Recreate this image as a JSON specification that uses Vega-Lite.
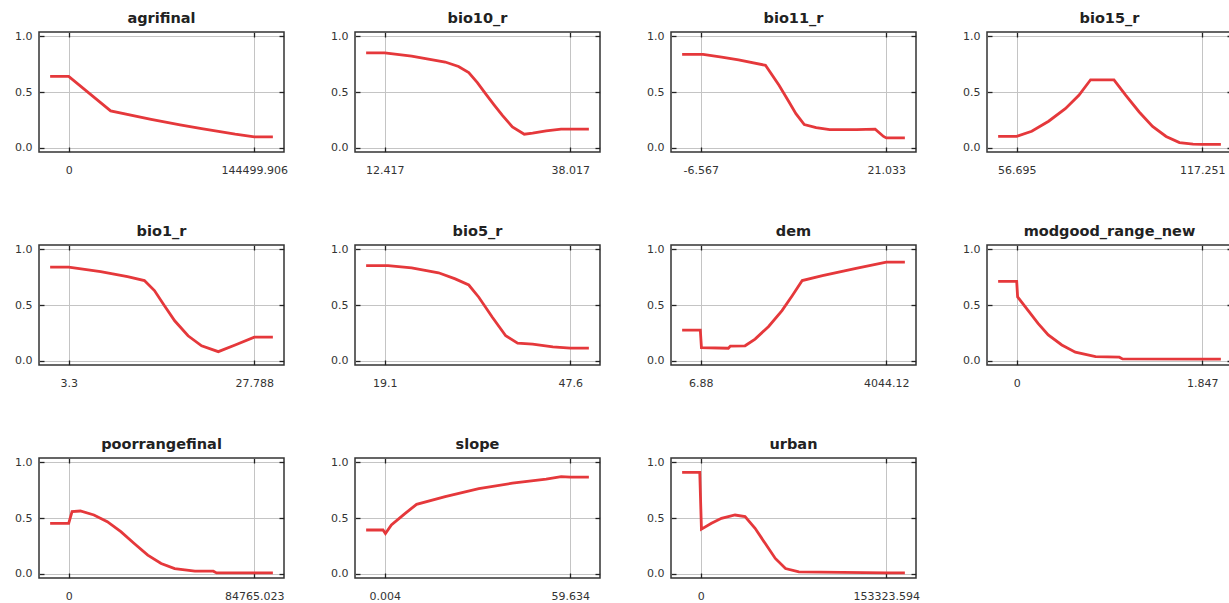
{
  "$schema": "https://vega.github.io/schema/vega-lite/v6.json",
  "background": "white",
  "padding": {"left": 13, "top": 10, "right": 0, "bottom": 0},
  "config": {
    "view": {"stroke": "#333333", "strokeWidth": 1.5},
    "axis": {"domain": false, "grid": true, "gridColor": "#c4c4c4", "gridWidth": 1, "tickColor": "#222222", "tickSize": -5, "tickWidth": 1.3, "labelFont": "DejaVu Sans", "labelFontSize": 11, "labelColor": "#333333"},
    "axisX": {"labelPadding": 17},
    "axisY": {"labelPadding": 12},
    "title": {"font": "DejaVu Sans", "fontSize": 14.5, "fontWeight": "bold", "color": "#222222", "offset": 4}
  },
  "datasets": {
    "agrifinal": [{"x": -14450, "y": 0.64}, {"x": 0, "y": 0.64}, {"x": 32657, "y": 0.33}, {"x": 64158, "y": 0.254}, {"x": 86700, "y": 0.205}, {"x": 103462, "y": 0.17}, {"x": 129616, "y": 0.12}, {"x": 144500, "y": 0.097}, {"x": 158950, "y": 0.097}],
    "bio10_r": [{"x": 9.857, "y": 0.853}, {"x": 12.417, "y": 0.853}, {"x": 16.13, "y": 0.823}, {"x": 20.76, "y": 0.77}, {"x": 22.6, "y": 0.73}, {"x": 24.01, "y": 0.674}, {"x": 25.2, "y": 0.585}, {"x": 26.32, "y": 0.485}, {"x": 27.5, "y": 0.385}, {"x": 28.65, "y": 0.29}, {"x": 30.03, "y": 0.186}, {"x": 31.67, "y": 0.12}, {"x": 32.82, "y": 0.13}, {"x": 34.69, "y": 0.15}, {"x": 36.74, "y": 0.165}, {"x": 38.017, "y": 0.165}, {"x": 40.577, "y": 0.165}],
    "bio11_r": [{"x": -9.327, "y": 0.838}, {"x": -6.21, "y": 0.838}, {"x": -3.448, "y": 0.814}, {"x": -0.937, "y": 0.79}, {"x": 3.065, "y": 0.74}, {"x": 5.08, "y": 0.56}, {"x": 6.571, "y": 0.41}, {"x": 7.592, "y": 0.305}, {"x": 8.834, "y": 0.207}, {"x": 10.6, "y": 0.18}, {"x": 12.615, "y": 0.162}, {"x": 16.617, "y": 0.162}, {"x": 19.377, "y": 0.165}, {"x": 20.619, "y": 0.1}, {"x": 21.033, "y": 0.087}, {"x": 23.793, "y": 0.087}],
    "bio15_r": [{"x": 50.639, "y": 0.1}, {"x": 56.695, "y": 0.1}, {"x": 61.6, "y": 0.147}, {"x": 67.11, "y": 0.237}, {"x": 72.56, "y": 0.35}, {"x": 76.98, "y": 0.47}, {"x": 80.8, "y": 0.61}, {"x": 88.43, "y": 0.61}, {"x": 92.3, "y": 0.47}, {"x": 96.66, "y": 0.32}, {"x": 101.02, "y": 0.19}, {"x": 105.44, "y": 0.1}, {"x": 109.8, "y": 0.045}, {"x": 114.22, "y": 0.03}, {"x": 117.251, "y": 0.028}, {"x": 123.307, "y": 0.028}],
    "bio1_r": [{"x": 0.851, "y": 0.84}, {"x": 3.3, "y": 0.84}, {"x": 7.512, "y": 0.8}, {"x": 11.063, "y": 0.756}, {"x": 13.291, "y": 0.72}, {"x": 14.613, "y": 0.63}, {"x": 15.936, "y": 0.494}, {"x": 17.283, "y": 0.358}, {"x": 19.046, "y": 0.223}, {"x": 20.833, "y": 0.133}, {"x": 23.037, "y": 0.08}, {"x": 25.26, "y": 0.14}, {"x": 27.788, "y": 0.21}, {"x": 30.237, "y": 0.21}],
    "bio5_r": [{"x": 16.25, "y": 0.855}, {"x": 19.613, "y": 0.855}, {"x": 23.233, "y": 0.834}, {"x": 27.365, "y": 0.79}, {"x": 29.93, "y": 0.735}, {"x": 32.011, "y": 0.68}, {"x": 33.55, "y": 0.57}, {"x": 35.63, "y": 0.39}, {"x": 37.68, "y": 0.223}, {"x": 39.506, "y": 0.157}, {"x": 41.815, "y": 0.148}, {"x": 44.921, "y": 0.123}, {"x": 47.6, "y": 0.111}, {"x": 50.45, "y": 0.111}],
    "dem": [{"x": -396.84, "y": 0.274}, {"x": -1.19, "y": 0.274}, {"x": 23.03, "y": 0.117}, {"x": 608.4, "y": 0.111}, {"x": 652.8, "y": 0.13}, {"x": 971.8, "y": 0.133}, {"x": 1189.8, "y": 0.193}, {"x": 1484.5, "y": 0.307}, {"x": 1775.2, "y": 0.45}, {"x": 1997.3, "y": 0.584}, {"x": 2215.2, "y": 0.72}, {"x": 2655.3, "y": 0.765}, {"x": 3386.1, "y": 0.83}, {"x": 4044.12, "y": 0.886}, {"x": 4447.84, "y": 0.886}],
    "modgood_range_new": [{"x": -0.1847, "y": 0.713}, {"x": 0, "y": 0.713}, {"x": 0.0092, "y": 0.573}, {"x": 0.1108, "y": 0.454}, {"x": 0.2124, "y": 0.334}, {"x": 0.314, "y": 0.23}, {"x": 0.4488, "y": 0.14}, {"x": 0.5837, "y": 0.075}, {"x": 0.785, "y": 0.036}, {"x": 1.0214, "y": 0.03}, {"x": 1.0528, "y": 0.015}, {"x": 1.847, "y": 0.012}, {"x": 2.0317, "y": 0.012}],
    "poorrangefinal": [{"x": -8476.5, "y": 0.452}, {"x": 0, "y": 0.452}, {"x": 1525.8, "y": 0.557}, {"x": 5340.2, "y": 0.563}, {"x": 11528, "y": 0.527}, {"x": 17631, "y": 0.467}, {"x": 23819, "y": 0.377}, {"x": 29922, "y": 0.27}, {"x": 36110, "y": 0.166}, {"x": 42213, "y": 0.09}, {"x": 48401, "y": 0.045}, {"x": 57640, "y": 0.021}, {"x": 66032, "y": 0.021}, {"x": 67558, "y": 0.006}, {"x": 84765, "y": 0.006}, {"x": 93241.5, "y": 0.006}],
    "slope": [{"x": -5.959, "y": 0.392}, {"x": -0.533, "y": 0.392}, {"x": 0.243, "y": 0.36}, {"x": 2.151, "y": 0.437}, {"x": 6.504, "y": 0.54}, {"x": 10.26, "y": 0.623}, {"x": 19.443, "y": 0.693}, {"x": 30.236, "y": 0.765}, {"x": 41.03, "y": 0.813}, {"x": 51.882, "y": 0.85}, {"x": 56.712, "y": 0.873}, {"x": 59.634, "y": 0.867}, {"x": 65.597, "y": 0.867}],
    "urban": [{"x": -15332.4, "y": 0.91}, {"x": -766.6, "y": 0.91}, {"x": 613.3, "y": 0.4}, {"x": 8892.8, "y": 0.452}, {"x": 17172, "y": 0.497}, {"x": 28365, "y": 0.527}, {"x": 36644, "y": 0.512}, {"x": 44924, "y": 0.407}, {"x": 53357, "y": 0.27}, {"x": 61636, "y": 0.136}, {"x": 70069, "y": 0.045}, {"x": 81108, "y": 0.015}, {"x": 153323.6, "y": 0.006}, {"x": 168656, "y": 0.006}]
  },
  "columns": 4,
  "spacing": {"row": 93, "column": 71},
  "bounds": "flush",
  "concat": [
    {"title": "agrifinal", "data": {"name": "agrifinal"}, "width": 245, "height": 120,
     "layer": [
      {"mark": {"type": "line", "color": "#e5383b", "strokeWidth": 2.8},
       "encoding": {"x": {"field": "x", "type": "quantitative", "scale": {"domain": [-23120, 167620], "nice": false, "zero": false}, "axis": {"values": [0, 144499.906], "format": ".3~f", "title": null}},
                    "y": {"field": "y", "type": "quantitative", "scale": {"domain": [-0.04, 1.04], "nice": false, "zero": false}, "axis": {"values": [0, 0.5, 1], "format": ".1f", "title": null}}}},
      {"mark": {"type": "line", "opacity": 0},
       "encoding": {"x": {"field": "x", "type": "quantitative", "scale": {"domain": [-23120, 167620], "nice": false, "zero": false}, "axis": {"orient": "top", "values": [0, 144499.906], "labels": false, "grid": false, "title": null}},
                    "y": {"field": "y", "type": "quantitative", "scale": {"domain": [-0.04, 1.04], "nice": false, "zero": false}, "axis": {"orient": "right", "values": [0, 0.5, 1], "labels": false, "grid": false, "title": null}}}}
     ],
     "resolve": {"axis": {"x": "independent", "y": "independent"}}},
    {"title": "bio10_r", "data": {"name": "bio10_r"}, "width": 245, "height": 120,
     "layer": [
      {"mark": {"type": "line", "color": "#e5383b", "strokeWidth": 2.8},
       "encoding": {"x": {"field": "x", "type": "quantitative", "scale": {"domain": [8.321, 42.113], "nice": false, "zero": false}, "axis": {"values": [12.417, 38.017], "format": ".3~f", "title": null}},
                    "y": {"field": "y", "type": "quantitative", "scale": {"domain": [-0.04, 1.04], "nice": false, "zero": false}, "axis": {"values": [0, 0.5, 1], "format": ".1f", "title": null}}}},
      {"mark": {"type": "line", "opacity": 0},
       "encoding": {"x": {"field": "x", "type": "quantitative", "scale": {"domain": [8.321, 42.113], "nice": false, "zero": false}, "axis": {"orient": "top", "values": [12.417, 38.017], "labels": false, "grid": false, "title": null}},
                    "y": {"field": "y", "type": "quantitative", "scale": {"domain": [-0.04, 1.04], "nice": false, "zero": false}, "axis": {"orient": "right", "values": [0, 0.5, 1], "labels": false, "grid": false, "title": null}}}}
     ],
     "resolve": {"axis": {"x": "independent", "y": "independent"}}},
    {"title": "bio11_r", "data": {"name": "bio11_r"}, "width": 245, "height": 120,
     "layer": [
      {"mark": {"type": "line", "color": "#e5383b", "strokeWidth": 2.8},
       "encoding": {"x": {"field": "x", "type": "quantitative", "scale": {"domain": [-10.983, 25.449], "nice": false, "zero": false}, "axis": {"values": [-6.567, 21.033], "format": ".3~f", "labelExpr": "replace(datum.label, '\u2212', '-')", "title": null}},
                    "y": {"field": "y", "type": "quantitative", "scale": {"domain": [-0.04, 1.04], "nice": false, "zero": false}, "axis": {"values": [0, 0.5, 1], "format": ".1f", "title": null}}}},
      {"mark": {"type": "line", "opacity": 0},
       "encoding": {"x": {"field": "x", "type": "quantitative", "scale": {"domain": [-10.983, 25.449], "nice": false, "zero": false}, "axis": {"orient": "top", "values": [-6.567, 21.033], "labels": false, "grid": false, "title": null}},
                    "y": {"field": "y", "type": "quantitative", "scale": {"domain": [-0.04, 1.04], "nice": false, "zero": false}, "axis": {"orient": "right", "values": [0, 0.5, 1], "labels": false, "grid": false, "title": null}}}}
     ],
     "resolve": {"axis": {"x": "independent", "y": "independent"}}},
    {"title": "bio15_r", "data": {"name": "bio15_r"}, "width": 245, "height": 120,
     "layer": [
      {"mark": {"type": "line", "color": "#e5383b", "strokeWidth": 2.8},
       "encoding": {"x": {"field": "x", "type": "quantitative", "scale": {"domain": [47.006, 126.94], "nice": false, "zero": false}, "axis": {"values": [56.695, 117.251], "format": ".3~f", "title": null}},
                    "y": {"field": "y", "type": "quantitative", "scale": {"domain": [-0.04, 1.04], "nice": false, "zero": false}, "axis": {"values": [0, 0.5, 1], "format": ".1f", "title": null}}}},
      {"mark": {"type": "line", "opacity": 0},
       "encoding": {"x": {"field": "x", "type": "quantitative", "scale": {"domain": [47.006, 126.94], "nice": false, "zero": false}, "axis": {"orient": "top", "values": [56.695, 117.251], "labels": false, "grid": false, "title": null}},
                    "y": {"field": "y", "type": "quantitative", "scale": {"domain": [-0.04, 1.04], "nice": false, "zero": false}, "axis": {"orient": "right", "values": [0, 0.5, 1], "labels": false, "grid": false, "title": null}}}}
     ],
     "resolve": {"axis": {"x": "independent", "y": "independent"}}},
    {"title": "bio1_r", "data": {"name": "bio1_r"}, "width": 245, "height": 120,
     "layer": [
      {"mark": {"type": "line", "color": "#e5383b", "strokeWidth": 2.8},
       "encoding": {"x": {"field": "x", "type": "quantitative", "scale": {"domain": [-0.618, 31.706], "nice": false, "zero": false}, "axis": {"values": [3.3, 27.788], "format": ".3~f", "title": null}},
                    "y": {"field": "y", "type": "quantitative", "scale": {"domain": [-0.04, 1.04], "nice": false, "zero": false}, "axis": {"values": [0, 0.5, 1], "format": ".1f", "title": null}}}},
      {"mark": {"type": "line", "opacity": 0},
       "encoding": {"x": {"field": "x", "type": "quantitative", "scale": {"domain": [-0.618, 31.706], "nice": false, "zero": false}, "axis": {"orient": "top", "values": [3.3, 27.788], "labels": false, "grid": false, "title": null}},
                    "y": {"field": "y", "type": "quantitative", "scale": {"domain": [-0.04, 1.04], "nice": false, "zero": false}, "axis": {"orient": "right", "values": [0, 0.5, 1], "labels": false, "grid": false, "title": null}}}}
     ],
     "resolve": {"axis": {"x": "independent", "y": "independent"}}},
    {"title": "bio5_r", "data": {"name": "bio5_r"}, "width": 245, "height": 120,
     "layer": [
      {"mark": {"type": "line", "color": "#e5383b", "strokeWidth": 2.8},
       "encoding": {"x": {"field": "x", "type": "quantitative", "scale": {"domain": [14.54, 52.16], "nice": false, "zero": false}, "axis": {"values": [19.1, 47.6], "format": ".3~f", "title": null}},
                    "y": {"field": "y", "type": "quantitative", "scale": {"domain": [-0.04, 1.04], "nice": false, "zero": false}, "axis": {"values": [0, 0.5, 1], "format": ".1f", "title": null}}}},
      {"mark": {"type": "line", "opacity": 0},
       "encoding": {"x": {"field": "x", "type": "quantitative", "scale": {"domain": [14.54, 52.16], "nice": false, "zero": false}, "axis": {"orient": "top", "values": [19.1, 47.6], "labels": false, "grid": false, "title": null}},
                    "y": {"field": "y", "type": "quantitative", "scale": {"domain": [-0.04, 1.04], "nice": false, "zero": false}, "axis": {"orient": "right", "values": [0, 0.5, 1], "labels": false, "grid": false, "title": null}}}}
     ],
     "resolve": {"axis": {"x": "independent", "y": "independent"}}},
    {"title": "dem", "data": {"name": "dem"}, "width": 245, "height": 120,
     "layer": [
      {"mark": {"type": "line", "color": "#e5383b", "strokeWidth": 2.8},
       "encoding": {"x": {"field": "x", "type": "quantitative", "scale": {"domain": [-639.08, 4690.08], "nice": false, "zero": false}, "axis": {"values": [6.88, 4044.12], "format": ".3~f", "title": null}},
                    "y": {"field": "y", "type": "quantitative", "scale": {"domain": [-0.04, 1.04], "nice": false, "zero": false}, "axis": {"values": [0, 0.5, 1], "format": ".1f", "title": null}}}},
      {"mark": {"type": "line", "opacity": 0},
       "encoding": {"x": {"field": "x", "type": "quantitative", "scale": {"domain": [-639.08, 4690.08], "nice": false, "zero": false}, "axis": {"orient": "top", "values": [6.88, 4044.12], "labels": false, "grid": false, "title": null}},
                    "y": {"field": "y", "type": "quantitative", "scale": {"domain": [-0.04, 1.04], "nice": false, "zero": false}, "axis": {"orient": "right", "values": [0, 0.5, 1], "labels": false, "grid": false, "title": null}}}}
     ],
     "resolve": {"axis": {"x": "independent", "y": "independent"}}},
    {"title": "modgood_range_new", "data": {"name": "modgood_range_new"}, "width": 245, "height": 120,
     "layer": [
      {"mark": {"type": "line", "color": "#e5383b", "strokeWidth": 2.8},
       "encoding": {"x": {"field": "x", "type": "quantitative", "scale": {"domain": [-0.2955, 2.1425], "nice": false, "zero": false}, "axis": {"values": [0, 1.847], "format": ".3~f", "title": null}},
                    "y": {"field": "y", "type": "quantitative", "scale": {"domain": [-0.04, 1.04], "nice": false, "zero": false}, "axis": {"values": [0, 0.5, 1], "format": ".1f", "title": null}}}},
      {"mark": {"type": "line", "opacity": 0},
       "encoding": {"x": {"field": "x", "type": "quantitative", "scale": {"domain": [-0.2955, 2.1425], "nice": false, "zero": false}, "axis": {"orient": "top", "values": [0, 1.847], "labels": false, "grid": false, "title": null}},
                    "y": {"field": "y", "type": "quantitative", "scale": {"domain": [-0.04, 1.04], "nice": false, "zero": false}, "axis": {"orient": "right", "values": [0, 0.5, 1], "labels": false, "grid": false, "title": null}}}}
     ],
     "resolve": {"axis": {"x": "independent", "y": "independent"}}},
    {"title": "poorrangefinal", "data": {"name": "poorrangefinal"}, "width": 245, "height": 120,
     "layer": [
      {"mark": {"type": "line", "color": "#e5383b", "strokeWidth": 2.8},
       "encoding": {"x": {"field": "x", "type": "quantitative", "scale": {"domain": [-13562.4, 98327.4], "nice": false, "zero": false}, "axis": {"values": [0, 84765.023], "format": ".3~f", "title": null}},
                    "y": {"field": "y", "type": "quantitative", "scale": {"domain": [-0.04, 1.04], "nice": false, "zero": false}, "axis": {"values": [0, 0.5, 1], "format": ".1f", "title": null}}}},
      {"mark": {"type": "line", "opacity": 0},
       "encoding": {"x": {"field": "x", "type": "quantitative", "scale": {"domain": [-13562.4, 98327.4], "nice": false, "zero": false}, "axis": {"orient": "top", "values": [0, 84765.023], "labels": false, "grid": false, "title": null}},
                    "y": {"field": "y", "type": "quantitative", "scale": {"domain": [-0.04, 1.04], "nice": false, "zero": false}, "axis": {"orient": "right", "values": [0, 0.5, 1], "labels": false, "grid": false, "title": null}}}}
     ],
     "resolve": {"axis": {"x": "independent", "y": "independent"}}},
    {"title": "slope", "data": {"name": "slope"}, "width": 245, "height": 120,
     "layer": [
      {"mark": {"type": "line", "color": "#e5383b", "strokeWidth": 2.8},
       "encoding": {"x": {"field": "x", "type": "quantitative", "scale": {"domain": [-9.537, 69.175], "nice": false, "zero": false}, "axis": {"values": [0.004, 59.634], "format": ".3~f", "title": null}},
                    "y": {"field": "y", "type": "quantitative", "scale": {"domain": [-0.04, 1.04], "nice": false, "zero": false}, "axis": {"values": [0, 0.5, 1], "format": ".1f", "title": null}}}},
      {"mark": {"type": "line", "opacity": 0},
       "encoding": {"x": {"field": "x", "type": "quantitative", "scale": {"domain": [-9.537, 69.175], "nice": false, "zero": false}, "axis": {"orient": "top", "values": [0.004, 59.634], "labels": false, "grid": false, "title": null}},
                    "y": {"field": "y", "type": "quantitative", "scale": {"domain": [-0.04, 1.04], "nice": false, "zero": false}, "axis": {"orient": "right", "values": [0, 0.5, 1], "labels": false, "grid": false, "title": null}}}}
     ],
     "resolve": {"axis": {"x": "independent", "y": "independent"}}},
    {"title": "urban", "data": {"name": "urban"}, "width": 245, "height": 120,
     "layer": [
      {"mark": {"type": "line", "color": "#e5383b", "strokeWidth": 2.8},
       "encoding": {"x": {"field": "x", "type": "quantitative", "scale": {"domain": [-24531.8, 177855.4], "nice": false, "zero": false}, "axis": {"values": [0, 153323.594], "format": ".3~f", "title": null}},
                    "y": {"field": "y", "type": "quantitative", "scale": {"domain": [-0.04, 1.04], "nice": false, "zero": false}, "axis": {"values": [0, 0.5, 1], "format": ".1f", "title": null}}}},
      {"mark": {"type": "line", "opacity": 0},
       "encoding": {"x": {"field": "x", "type": "quantitative", "scale": {"domain": [-24531.8, 177855.4], "nice": false, "zero": false}, "axis": {"orient": "top", "values": [0, 153323.594], "labels": false, "grid": false, "title": null}},
                    "y": {"field": "y", "type": "quantitative", "scale": {"domain": [-0.04, 1.04], "nice": false, "zero": false}, "axis": {"orient": "right", "values": [0, 0.5, 1], "labels": false, "grid": false, "title": null}}}}
     ],
     "resolve": {"axis": {"x": "independent", "y": "independent"}}}
  ]
}
